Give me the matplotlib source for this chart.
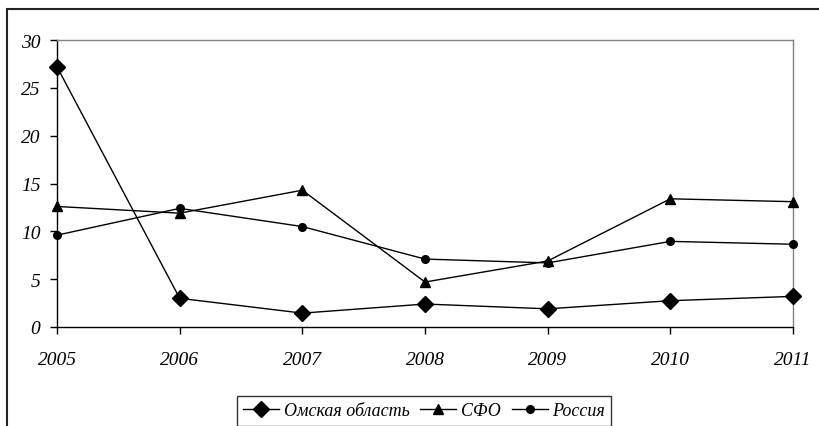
import numpy as np
import matplotlib
matplotlib.use("Agg")
import matplotlib.pyplot as plt
from matplotlib.patches import Rectangle

plt.rcParams['font.family'] = ['Liberation Serif', 'DejaVu Serif']

# Values
years = [2005, 2006, 2007, 2008, 2009, 2010, 2011]
omsk = [27.2, 3.0, 1.45, 2.4, 1.9, 2.75, 3.2]
sfo = [12.6, 11.9, 14.3, 4.7, 6.9, 13.4, 13.1]
russia = [9.6, 12.4, 10.5, 7.1, 6.7, 8.95, 8.65]
labels = ["Омская область", "СФО", "Россия"]
y_ticks = [0, 5, 10, 15, 20, 25, 30]


def main():
    fig = plt.figure(figsize=(8.19, 4.27), dpi=100)
    ax = fig.add_axes([57 / 819, 1 - 328 / 427, (793 - 57) / 819, (328 - 41) / 427])

    lw = 1.0
    ax.plot(years, omsk, color="black", lw=lw, marker="D", markersize=8.5, label=labels[0], clip_on=False, zorder=3)
    ax.plot(years, sfo, color="black", lw=lw, marker="^", markersize=7, label=labels[1], clip_on=False, zorder=3)
    ax.plot(years, russia, color="black", lw=lw, marker="o", markersize=5.5, label=labels[2], clip_on=False, zorder=3)

    ax.set_xlim(years[0], years[-1])
    ax.set_ylim(0, 30)
    ax.set_xticks(years)
    ax.set_xticklabels([str(y) for y in years])
    ax.set_yticks(y_ticks)
    ax.set_yticklabels([str(t) for t in y_ticks])

    for lab in ax.get_xticklabels() + ax.get_yticklabels():
        lab.set_fontstyle("italic")
        lab.set_fontsize(14)

    ax.tick_params(axis="x", direction="out", length=5, width=1, pad=12)
    ax.tick_params(axis="y", direction="out", length=5, width=1, pad=7)

    ax.spines["left"].set_color("black")
    ax.spines["bottom"].set_color("black")
    ax.spines["top"].set_color("#808080")
    ax.spines["right"].set_color("#808080")
    for s in ax.spines.values():
        s.set_linewidth(1.0)

    leg = fig.legend(loc="upper center", bbox_to_anchor=(424 / 819, 1 - 388 / 427),
                     ncol=3, frameon=True, fancybox=False, handlelength=2.0,
                     handletextpad=0.25, columnspacing=0.6, borderpad=0.35,
                     prop={"style": "italic", "size": 13})
    leg.get_frame().set_edgecolor("black")
    leg.get_frame().set_linewidth(1.0)

    # outer chart border (cut off at right and bottom in the source)
    fig.patches.append(Rectangle((7 / 819, -0.1), 1.2, 1 - 10 / 427 + 0.1,
                                 transform=fig.transFigure, fill=False,
                                 edgecolor="#222222", linewidth=1.5))

    fig.savefig("out.png", dpi=100)


if __name__ == "__main__":
    main()
